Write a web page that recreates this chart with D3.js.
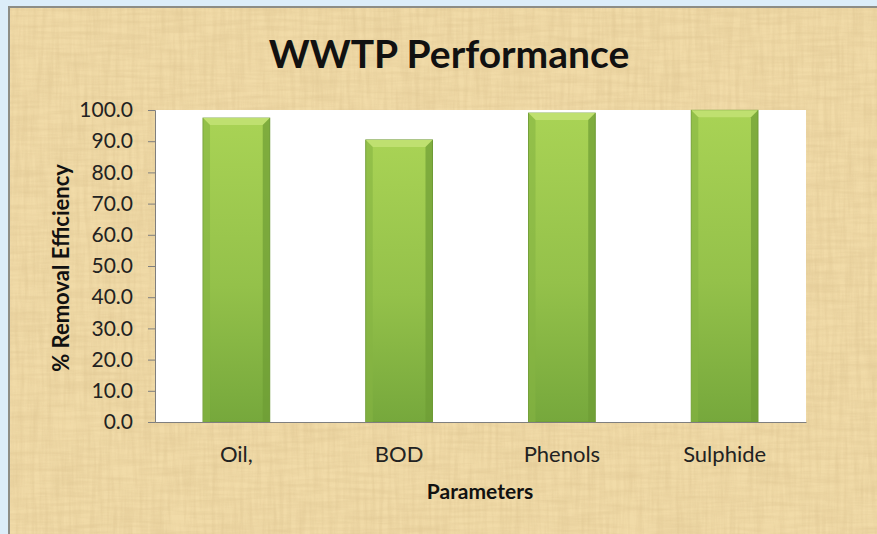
<!DOCTYPE html>
<html>
<head>
<meta charset="utf-8">
<script src="https://cdn.jsdelivr.net/npm/d3@7"></script>
<style>
  html, body { margin: 0; padding: 0; background: #dcedf9; }
  svg { display: block; }
</style>
</head>
<body>
<div id="chart"></div>
<script>
const categories = ['Oil,', 'BOD', 'Phenols', 'Sulphide'];
const removal = [97.4, 90.4, 99.0, 99.9];
const yTicks = [0, 10, 20, 30, 40, 50, 60, 70, 80, 90, 100];

const width = 877, height = 534;
const font = 'Lato, "Open Sans", sans-serif';
const plot = { left: 155, right: 806, top: 110, bottom: 422 };

const svg = d3.select('#chart').append('svg')
  .attr('width', width)
  .attr('height', height);

const defs = svg.append('defs');

// parchment texture: two noise layers, vertical and horizontal fibres
function paper(id, freq, seed) {
  const f = defs.append('filter').attr('id', id)
    .attr('x', 0).attr('y', 0).attr('width', '100%').attr('height', '100%');
  f.append('feTurbulence')
    .attr('type', 'fractalNoise')
    .attr('baseFrequency', freq)
    .attr('numOctaves', 3)
    .attr('seed', seed)
    .attr('result', 'noise');
  f.append('feColorMatrix')
    .attr('in', 'noise')
    .attr('type', 'matrix')
    .attr('values', '0 0 0 0 0.72  0 0 0 0 0.55  0 0 0 0 0.28  1.8 0 0 0 -0.62')
    .attr('result', 'tint');
  f.append('feComposite').attr('in', 'tint').attr('in2', 'SourceGraphic').attr('operator', 'in');
}
paper('paperV', '0.25 0.02', 3);
paper('paperH', '0.02 0.25', 9);

const grad = defs.append('linearGradient').attr('id', 'barGrad')
  .attr('x1', 0).attr('y1', 0).attr('x2', 0).attr('y2', 1);
grad.append('stop').attr('offset', '0%').attr('stop-color', '#a9d355');
grad.append('stop').attr('offset', '55%').attr('stop-color', '#94c14a');
grad.append('stop').attr('offset', '100%').attr('stop-color', '#76a83c');

// chart frame
svg.append('rect')
  .attr('x', 9).attr('y', 7)
  .attr('width', width).attr('height', height)
  .attr('fill', '#f1dba8')
  .attr('stroke', '#8d8d86')
  .attr('stroke-width', 2);
['paperV', 'paperH'].forEach(id => {
  svg.append('rect')
    .attr('x', 10).attr('y', 8)
    .attr('width', width).attr('height', height)
    .attr('fill', '#f1dba8')
    .attr('filter', `url(#${id})`)
    .attr('opacity', 0.45);
});

// title
svg.append('text')
  .attr('x', 449).attr('y', 68)
  .attr('text-anchor', 'middle')
  .style('font-family', font)
  .style('font-weight', 'bold')
  .style('font-size', '39px')
  .attr('fill', '#111')
  .text('WWTP Performance');

const x = d3.scaleBand()
  .domain(categories)
  .range([plot.left, plot.right])
  .paddingInner(0.59)
  .paddingOuter(0.295);

const y = d3.scaleLinear()
  .domain([0, 100])
  .range([plot.bottom, plot.top]);

svg.append('rect')
  .attr('x', plot.left).attr('y', plot.top)
  .attr('width', plot.right - plot.left)
  .attr('height', plot.bottom - plot.top)
  .attr('fill', '#ffffff');

// bars
const bars = svg.append('g').selectAll('g')
  .data(categories.map((c, i) => ({ c, v: removal[i] })))
  .enter().append('g');

bars.append('rect')
  .attr('x', d => x(d.c))
  .attr('y', d => y(d.v))
  .attr('width', x.bandwidth())
  .attr('height', d => y(0) - y(d.v))
  .attr('fill', 'url(#barGrad)')
  .attr('stroke', '#6f9a36')
  .attr('stroke-width', 1);

const bev = 7;
// top bevel
bars.append('path')
  .attr('d', d => {
    const x0 = x(d.c), x1 = x0 + x.bandwidth(), t = y(d.v);
    return `M${x0},${t}L${x1},${t}L${x1 - bev},${t + bev}L${x0 + bev},${t + bev}Z`;
  })
  .attr('fill', '#bfe070');
// side bevels
bars.append('path')
  .attr('d', d => {
    const x0 = x(d.c), t = y(d.v), b = y(0);
    return `M${x0},${t}L${x0 + bev},${t + bev}L${x0 + bev},${b}L${x0},${b}Z`;
  })
  .attr('fill', '#86b443')
  .attr('opacity', 0.6);
bars.append('path')
  .attr('d', d => {
    const x1 = x(d.c) + x.bandwidth(), t = y(d.v), b = y(0);
    return `M${x1},${t}L${x1 - bev},${t + bev}L${x1 - bev},${b}L${x1},${b}Z`;
  })
  .attr('fill', '#6e9c34')
  .attr('opacity', 0.7);

// y axis
const yAxis = svg.append('g')
  .attr('transform', `translate(${plot.left},0)`)
  .call(d3.axisLeft(y).tickValues(yTicks).tickFormat(d3.format('.1f')).tickSize(7).tickPadding(15));
yAxis.select('.domain').attr('stroke', '#7f7f7f');
yAxis.selectAll('.tick line').attr('stroke', '#7f7f7f');
yAxis.selectAll('text')
  .style('font-family', font)
  .style('font-size', '21px')
  .attr('fill', '#222');

// x axis
const xAxis = svg.append('g')
  .attr('transform', `translate(0,${plot.bottom})`)
  .call(d3.axisBottom(x).tickSize(0).tickPadding(24));
xAxis.select('.domain').attr('stroke', '#7f7f7f');
xAxis.selectAll('text')
  .style('font-family', font)
  .style('font-size', '22px')
  .attr('fill', '#222');

// axis titles
svg.append('text')
  .attr('x', 480).attr('y', 499)
  .attr('text-anchor', 'middle')
  .style('font-family', font)
  .style('font-weight', 'bold')
  .style('font-size', '21px')
  .attr('fill', '#111')
  .text('Parameters');

svg.append('text')
  .attr('transform', 'translate(69,268) rotate(-90)')
  .attr('text-anchor', 'middle')
  .style('font-family', font)
  .style('font-weight', 'bold')
  .style('font-size', '22px')
  .attr('fill', '#111')
  .text('% Removal Efficiency');
</script>
</body>
</html>
